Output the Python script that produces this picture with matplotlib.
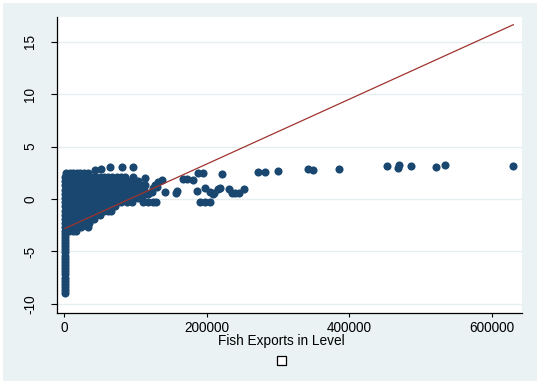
import numpy as np
import matplotlib
matplotlib.use("Agg")
import matplotlib.pyplot as plt
from matplotlib.patches import Rectangle

plt.rcParams['font.family'] = ['Liberation Sans', 'DejaVu Sans']

# ---------------- data (exports in thousands, residual values) ----------------
# near-zero exporters: tall vertical stripe
stripe_exports_k = [1.5] * 20
stripe_values = [-9.0, -8.7, -8.4, -8.1, -7.8, -7.5, -7.2, -6.9, -6.6, -6.3,
                 -6.0, -5.7, -5.4, -5.1, -4.8, -4.5, -4.2, -3.9, -3.6, -3.3]

# dense body of small exporters, row by row
body_levels = [2.5, 2.1, 1.7, 1.3, 0.9, 0.5, 0.1, -0.3,
               -0.7, -1.1, -1.5, -1.9, -2.3, -2.7, -3.05]
body_exports_k = [
    [3, 8, 13, 18, 23, 28, 33],
    [2, 8, 14, 20, 26, 32, 38, 44, 50, 56, 62, 68, 74, 80, 86, 97],
    [2, 8, 14, 20, 26, 32, 38, 44, 50, 56, 62, 68, 74, 80, 88, 94, 104],
    [2, 8, 14, 20, 26, 32, 38, 44, 50, 56, 62, 68, 74, 80, 86, 92, 100, 108, 114],
    [2, 8, 14, 20, 26, 32, 38, 44, 50, 56, 62, 68, 74, 80, 86, 92, 98, 106, 112],
    [2, 8, 14, 20, 26, 32, 38, 44, 50, 56, 62, 68, 74, 80, 86, 92, 98, 104, 112, 118],
    [2, 8, 14, 20, 26, 32, 38, 44, 50, 56, 62, 68, 74, 80, 86, 92, 98, 104],
    [2, 8, 14, 20, 26, 32, 38, 44, 50, 56, 62, 68, 74, 80, 88, 96],
    [2, 8, 14, 20, 26, 32, 38, 44, 50, 56, 62, 68, 72],
    [2, 8, 14, 20, 26, 32, 38, 44, 50, 56, 62, 66],
    [2, 8, 14, 20, 26, 32, 38, 44, 50],
    [2, 8, 14, 20, 26, 32, 38, 42],
    [2, 8, 14, 20, 26, 32, 35],
    [2, 8, 14, 20, 24, 34],
    [2, 7, 12, 17],
]

# scattered larger exporters
spread_exports_k = [43, 52, 64, 81, 97,
                    113.7, 137.1, 132.4, 127.7, 125.3, 123.1, 130.1, 141.8,
                    109.1, 111.3, 118.3, 125.3, 129.1,
                    158.2, 157.2, 166.6, 172.2, 181.5, 188.5, 194.7, 221.3,
                    187.1, 197.9, 204.9, 208.7, 210.5, 216.6, 218.9,
                    232.0, 235.3, 240.0, 246.0, 252.6,
                    190.9, 197.9, 204.9,
                    272.7, 282.1, 300.8, 342.9, 349.9, 386.4,
                    453.8, 470.2, 469.2, 487.0, 522.5, 535.2, 630.6]
spread_values = [2.75, 2.9, 3.05, 3.1, 3.1,
                 1.97, 1.81, 1.65, 1.34, 1.02, 0.70, 1.17, 0.70,
                 0.07, -0.26, -0.26, -0.26, -0.26,
                 0.79, 0.54, 1.88, 1.88, 1.81, 2.45, 2.45, 2.39,
                 0.79, 1.02, 0.70, 0.45, 0.60, 0.95, 1.02,
                 0.93, 0.54, 0.54, 0.54, 0.95,
                 -0.26, -0.26, -0.26,
                 2.60, 2.58, 2.67, 2.83, 2.74, 2.89,
                 3.18, 3.21, 2.93, 3.18, 3.05, 3.21, 3.15]

# linear fit
fit_intercept = -2.85
fit_slope = 3.09e-5

x_ticks = [0, 200000, 400000, 600000]
x_tick_labels = ['0', '200000', '400000', '600000']
y_ticks = [-10, -5, 0, 5, 10, 15]
x_title = 'Fish Exports in Level'

# ---------------- assemble ----------------
xs = list(stripe_exports_k)
ys = list(stripe_values)
for lvl, row in zip(body_levels, body_exports_k):
    xs += row
    ys += [lvl] * len(row)
xs += spread_exports_k
ys += spread_values
x = np.array(xs) * 1000.0
y = np.array(ys)

navy = '#1a476f'
maroon = '#a0342f'
panel = '#eaf2f3'

fig = plt.figure(figsize=(5.37, 3.83), dpi=100, facecolor='white')
fig.add_artist(Rectangle((3 / 537, 2 / 383), 534 / 537, 378 / 383,
                         transform=fig.transFigure, facecolor=panel,
                         edgecolor='none', zorder=-10))

ax = fig.add_axes([57 / 537, 70 / 383, 465 / 537, 296 / 383])
ax.set_facecolor('white')
ax.set_axisbelow(True)

ax.scatter(x, y, s=34, color=navy, linewidths=0, zorder=2)
fx = np.array([x.min(), x.max()])
ax.plot(fx, fit_intercept + fit_slope * fx, color=maroon, lw=0.9, zorder=3)

ax.set_xlim(-9825, 642800)
ax.set_ylim(-10.88, 17.37)

ax.set_xticks(x_ticks)
ax.set_xticklabels(x_tick_labels)
ax.set_yticks(y_ticks)
ax.set_yticklabels([str(v) for v in y_ticks])

ax.yaxis.grid(True, color='#e6eef0', lw=1.0)
ax.xaxis.grid(False)

for side in ('top', 'right'):
    ax.spines[side].set_visible(False)
for side in ('left', 'bottom'):
    ax.spines[side].set_color('black')
    ax.spines[side].set_linewidth(0.9)

ax.tick_params(axis='x', length=3.0, width=0.8, pad=3, labelsize=9.8, colors='black')
ax.tick_params(axis='y', length=4.3, width=0.8, pad=10, labelsize=9.8, colors='black')
for lbl in ax.get_yticklabels():
    lbl.set_rotation(90)
    lbl.set_va('center')

fig.text(281.5 / 537, 1 - 341.5 / 383, x_title, ha='center', va='center', fontsize=9.8)

# empty legend key
fig.add_artist(Rectangle((276.5 / 537, (383 - 364.5) / 383), 9 / 537, 9 / 383,
                         transform=fig.transFigure, facecolor='white',
                         edgecolor='black', lw=0.9))

fig.savefig('out.png', dpi=100, facecolor=fig.get_facecolor())
